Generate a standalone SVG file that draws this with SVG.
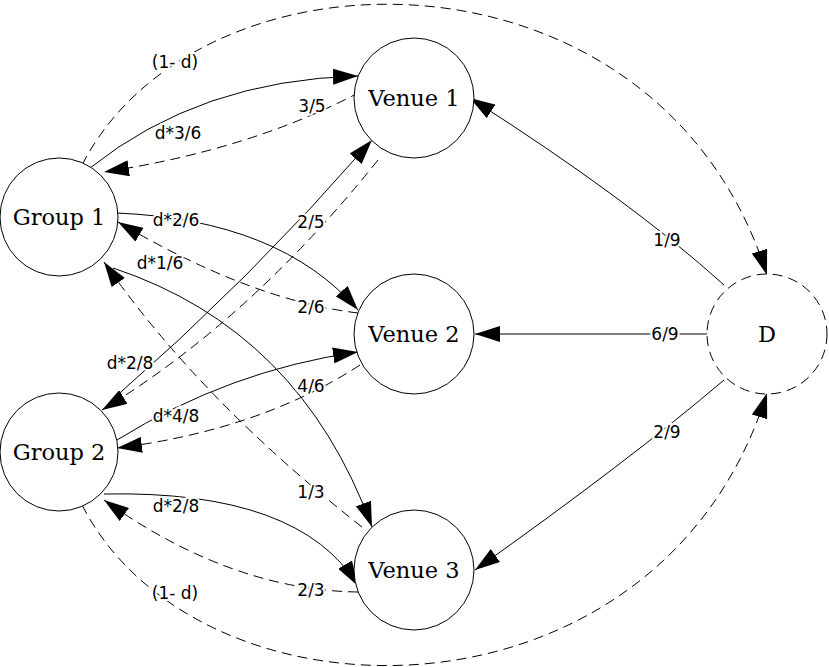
<svg xmlns="http://www.w3.org/2000/svg" width="829" height="667" viewBox="0 0 829 667">
<style>
.n{fill:#fff;stroke:#000;stroke-width:1}
.d{stroke-dasharray:10,6}
.t{font-family:"DejaVu Serif",serif;font-size:22.5px;text-anchor:middle;dominant-baseline:central}
.e{fill:none;stroke:#000;stroke-width:1;marker-end:url(#a)}
.l{font-family:"DejaVu Sans",sans-serif;font-size:17px;text-anchor:middle;dominant-baseline:central;paint-order:stroke;stroke:#fff;stroke-width:4}
</style>
<defs><marker id="a" markerUnits="userSpaceOnUse" markerWidth="26" markerHeight="16" refX="25" refY="8" orient="auto"><path d="M0,0 L25,8 L0,16 Z"/></marker></defs>
<g id="connectors">
<path class="e d" d="M82,165 C200,-65 660,-65 767,275"/>
<path class="e d" d="M82,505 C200,735 660,735 767,393"/>
<path class="e" d="M90,168 Q200,80 358,76"/>
<path class="e d" d="M360,92 Q250,150 104,172"/>
<path class="e" d="M117,213 Q280,220 358,310"/>
<path class="e d" d="M358,313 Q250,300 118,222"/>
<path class="e" d="M113,268 Q300,330 372,527"/>
<path class="e d" d="M362,527 Q200,400 104,262"/>
<path class="e" d="M112,400 Q250,280 372,140"/>
<path class="e d" d="M378,160 Q250,320 102,410"/>
<path class="e" d="M117,440 Q230,370 358,352"/>
<path class="e d" d="M360,365 Q260,430 117,448"/>
<path class="e" d="M104,494 Q300,490 358,586"/>
<path class="e d" d="M358,592 Q230,590 104,500"/>
<path class="e" d="M724,285 Q630,200 470,98"/>
<path class="e" d="M708,334 L475,334"/>
<path class="e" d="M724,380 Q630,460 475,570"/>
<text class="l" x="175" y="62">(1- d)</text>
<text class="l" x="175" y="593">(1- d)</text>
<text class="l" x="178" y="133">d*3/6</text>
<text class="l" x="312" y="106">3/5</text>
<text class="l" x="176" y="220">d*2/6</text>
<text class="l" x="311" y="307">2/6</text>
<text class="l" x="160" y="263">d*1/6</text>
<text class="l" x="311" y="492">1/3</text>
<text class="l" x="130" y="363">d*2/8</text>
<text class="l" x="311" y="222">2/5</text>
<text class="l" x="176" y="416">d*4/8</text>
<text class="l" x="311" y="386">4/6</text>
<text class="l" x="176" y="506">d*2/8</text>
<text class="l" x="311" y="590">2/3</text>
<text class="l" x="667" y="240">1/9</text>
<text class="l" x="665" y="334">6/9</text>
<text class="l" x="667" y="432">2/9</text>
</g>
<g id="group1"><circle class="n" cx="59" cy="217" r="59"/><text class="t" x="59" y="217">Group 1</text></g>
<g id="group2"><circle class="n" cx="59" cy="452" r="59"/><text class="t" x="59" y="452">Group 2</text></g>
<g id="venue1"><circle class="n" cx="414" cy="98" r="60"/><text class="t" x="414" y="98">Venue 1</text></g>
<g id="venue2"><circle class="n" cx="414" cy="334" r="60"/><text class="t" x="414" y="334">Venue 2</text></g>
<g id="venue3"><circle class="n" cx="414" cy="570" r="60"/><text class="t" x="414" y="570">Venue 3</text></g>
<g id="D"><circle class="n d" cx="767" cy="334" r="60"/><text class="t" x="767" y="334">D</text></g>
</svg>
